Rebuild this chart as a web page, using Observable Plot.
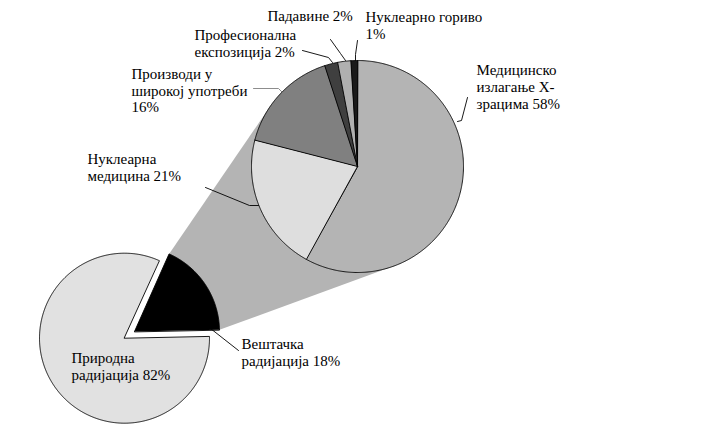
<!DOCTYPE html>
<html><head><meta charset="utf-8">
<script src="https://cdn.jsdelivr.net/npm/d3@7"></script>
<script src="https://cdn.jsdelivr.net/npm/@observablehq/plot@0.6"></script>
<style>body{margin:0;background:#fff} svg text{font-family:"Liberation Serif","Times New Roman",serif !important;}</style>
</head><body><div id="chart"></div>
<script>
// ---- data ----
const mainCategories = ["Природна радијација", "Вештачка радијација"];
const mainValues = [82, 18];
const mainLabels = ["Природна\nрадијација 82%", "Вештачка\nрадијација 18%"];

const subCategories = ["Медицинско излагање X-зрацима", "Нуклеарна медицина", "Производи у широкој употреби", "Професионална експозиција", "Падавине", "Нуклеарно гориво"];
const subValues = [58, 21, 16, 2, 2, 1];
const subLabels = ["Медицинско\nизлагање X-\nзрацима 58%", "Нуклеарна\nмедицина 21%", "Производи у\nширокој употреби\n16%", "Професионална\nекспозиција 2%", "Падавине 2%", "Нуклеарно гориво\n1%"];

// ---- styles ----
const mainColors = ["#e1e1e1", "#000000"];
const subColors = ["#b4b4b4", "#dedede", "#808080", "#3f3f3f", "#b0b0b0", "#1a1a1a"];
const connectorColor = "#b4b4b4";

// ---- layout ----
const mainPie = {cx: 124, cy: 337.7, r: 85, explodedStart: 24, explode: 12};
const subPie = {cx: 357, cy: 166, r: 106, start: 0};
const mainLabelPos = [[71, 361], [241, 347]];
const subLabelPos = [[476, 73.5], [87, 162], [131, 77], [194, 38], [267, 19], [365, 20]];
const mainLeaders = [null, [[210, 328], [238, 350]]];
const subLeaders = [
  [[457, 121], [461, 120], [467, 97]],
  [[205, 187], [249, 205], [258, 205]],
  [[253, 88], [278, 88], [282, 92]],
  [[302, 50], [328, 57], [332, 62]],
  [[330, 39], [340, 53], [345, 60]],
  [[357, 40], [355, 54], [355, 60]]
];
const subLeaderColors = ["#000", "#000", "#808080", "#000", "#000", "#000"];
const fontSize = 15, lineHeight = 1.12;
const fontFamily = "Liberation Serif";

// ---- geometry helpers ----
const rad = d => d * Math.PI / 180;
const pt = (cx, cy, r, a) => [cx + r * Math.sin(rad(a)), cy - r * Math.cos(rad(a))];

function slices(values, startDeg) {
  const total = d3.sum(values);
  let a = startDeg;
  return values.map(v => { const s = a; a += 360 * v / total; return [s, a]; });
}
function wedge(name, color, cx, cy, r, a0, a1) {
  const rows = [{name, color, x: cx, y: cy}];
  const n = Math.max(2, Math.ceil((a1 - a0) / 0.5));
  for (let i = 0; i <= n; i++) {
    const [x, y] = pt(cx, cy, r, a0 + (a1 - a0) * i / n);
    rows.push({name, color, x, y});
  }
  return rows;
}

// main pie: the artificial slice (last) starts at explodedStart
const mainTotal = d3.sum(mainValues);
const artSpan = 360 * mainValues[1] / mainTotal;
const mainAngles = slices(mainValues, mainPie.explodedStart + artSpan);
const mainRows = [];
mainAngles.forEach(([a0, a1], i) => {
  let cx = mainPie.cx, cy = mainPie.cy;
  if (i === 1) {
    const [ex, ey] = pt(0, 0, mainPie.explode, (a0 + a1) / 2);
    cx += ex; cy += ey;
  }
  mainRows.push(...wedge(mainCategories[i], mainColors[i], cx, cy, mainPie.r, a0, a1));
});

// exploded slice corners
const [a0b, a1b] = mainAngles[1];
const [exx, exy] = pt(0, 0, mainPie.explode, (a0b + a1b) / 2);
const bcx = mainPie.cx + exx, bcy = mainPie.cy + exy;
const cornerA = pt(bcx, bcy, mainPie.r, a0b);
const cornerB = pt(bcx, bcy, mainPie.r, a1b);

function tangents(P, cx, cy, r) {
  const dx = P[0] - cx, dy = P[1] - cy, d = Math.hypot(dx, dy);
  const base = Math.atan2(dy, dx), al = Math.acos(r / d);
  return [base + al, base - al].map(t => [cx + r * Math.cos(t), cy + r * Math.sin(t)]);
}
const tA = tangents(cornerA, subPie.cx, subPie.cy, subPie.r).sort((p, q) => p[1] - q[1])[0];
const tB = tangents(cornerB, subPie.cx, subPie.cy, subPie.r).sort((p, q) => q[1] - p[1])[0];
const connector = [cornerA, tA, [subPie.cx, subPie.cy], tB, cornerB].map(([x, y]) => ({x, y}));

// sub pie
const subAngles = slices(subValues, subPie.start);
const subRows = [];
subAngles.forEach(([a0, a1], i) => subRows.push(...wedge(subCategories[i], subColors[i], subPie.cx, subPie.cy, subPie.r, a0, a1)));

// leaders
const leaderRows = [];
subLeaders.forEach((pts, i) => pts && pts.forEach(([x, y]) => leaderRows.push({k: "s" + i, x, y, c: subLeaderColors[i]})));
mainLeaders.forEach((pts, i) => pts && pts.forEach(([x, y]) => leaderRows.push({k: "m" + i, x, y, c: "#000"})));

// labels (first-line baseline -> top)
const labelRows = [
  ...mainLabels.map((t, i) => ({t, x: mainLabelPos[i][0], y: mainLabelPos[i][1] - 0.71 * fontSize})),
  ...subLabels.map((t, i) => ({t, x: subLabelPos[i][0], y: subLabelPos[i][1] - 0.71 * fontSize}))
];

const chart = Plot.plot({
  width: 727, height: 427, margin: 0,
  x: {domain: [0, 727], range: [0, 727], axis: null},
  y: {domain: [0, 427], range: [0, 427], axis: null},
  style: {fontFamily, fontSize: fontSize + "px", background: "#fff", color: "#000"},
  marks: [
    Plot.line(connector, {x: "x", y: "y", fill: connectorColor, stroke: "none", curve: "linear-closed"}),
    Plot.line(mainRows, {x: "x", y: "y", z: "name", fill: "color", stroke: "#000", strokeWidth: 0.9, curve: "linear-closed"}),
    Plot.line(subRows, {x: "x", y: "y", z: "name", fill: "color", stroke: "#000", strokeWidth: 0.9, curve: "linear-closed"}),
    Plot.line(leaderRows, {x: "x", y: "y", z: "k", stroke: "c", strokeWidth: 0.9}),
    Plot.text(labelRows, {x: "x", y: "y", text: "t", textAnchor: "start", lineAnchor: "top", lineHeight, fill: "#000", fontSize, fontFamily})
  ]
});
document.getElementById("chart").appendChild(chart);
</script>
</body></html>
